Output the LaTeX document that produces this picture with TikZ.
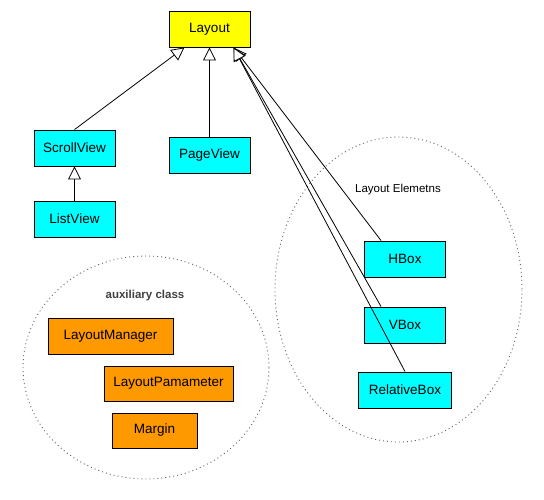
\documentclass[tikz,border=0pt]{standalone}
\usepackage{fontspec}
\setmainfont{Liberation Sans}
\usetikzlibrary{arrows.meta}
\definecolor{cyanbox}{HTML}{00FFFF}
\definecolor{yellowbox}{HTML}{FFFF00}
\definecolor{orangebox}{HTML}{FF9900}
\begin{document}
\begin{tikzpicture}[x=1pt,y=-1pt,
  cls/.style={draw=black, line width=0.9pt, inner sep=0pt, minimum height=36pt, font=\fontsize{13.5}{14}\selectfont},
  viewbox/.style={cls, fill=cyanbox, minimum width=81pt},
  auxbox/.style={cls, fill=orangebox},
  inh/.style={draw=black, line width=0.8pt, -{Triangle[open, length=13pt, width=13pt, fill=white]}},
  grp/.style={draw=gray!80!black, line width=0.9pt, dash pattern=on 1pt off 3pt}
]
\useasboundingbox (0,0) rectangle (544,499);
% groups
\draw[grp] (398.5,289.5) ellipse [x radius=123.5, y radius=152.5];
\draw[grp] (146,367.5) ellipse [x radius=123, y radius=111.5];
\node[font=\fontsize{11.5}{12}\selectfont] (lel) at (398,190) {Layout Elemetns};
\node[font=\bfseries\fontsize{11.5}{12}\selectfont, text=black!75] (aux) at (145,296) {auxiliary class};
% nodes
\node[cls, fill=yellowbox, minimum width=81pt] (layout) at (209.5,29) {Layout};
\node[viewbox] (scroll) at (74.5,148) {ScrollView};
\node[viewbox] (list) at (74.5,219) {ListView};
\node[viewbox] (page) at (209.5,155) {PageView};
\node[viewbox] (hbox) at (405,259) {HBox};
\node[viewbox] (vbox) at (405,325) {VBox};
\node[viewbox, minimum width=93pt] (rbox) at (405,390) {RelativeBox};
\node[auxbox, minimum width=125pt] (lm) at (110.5,336) {LayoutManager};
\node[auxbox, minimum width=129pt, minimum height=35pt] (lp) at (168.5,383.5) {LayoutPamameter};
\node[auxbox, minimum width=85pt, minimum height=35pt] (mg) at (154.5,430.5) {Margin};
% inheritance
\draw[inh] (scroll.north) -- ([xshift=-25pt]layout.south);
\draw[inh] (page.north) -- (layout.south);
\draw[inh] (list.north) -- (scroll.south);
\draw[inh] ([xshift=17pt]hbox.north west) -- ([xshift=24pt]layout.south);
\draw[inh] ([xshift=17pt]vbox.north west) -- ([xshift=24pt]layout.south);
\draw[inh] (rbox.north) -- ([xshift=24pt]layout.south);
\end{tikzpicture}
\end{document}
